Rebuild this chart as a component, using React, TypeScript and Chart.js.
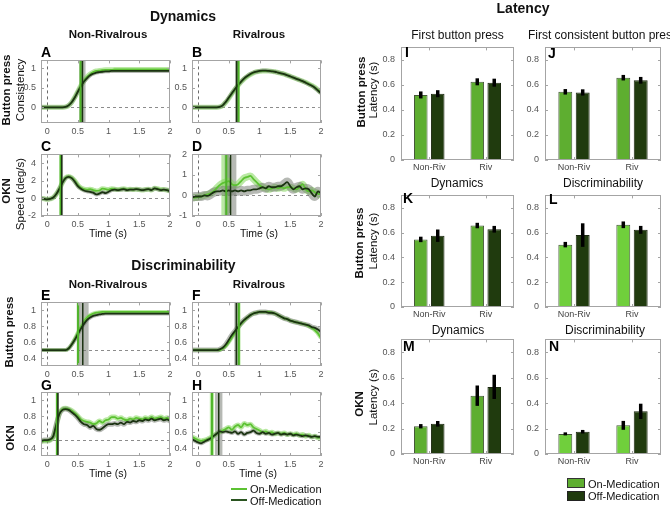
import React, { useEffect, useRef } from "react";
import { Chart, registerables } from "chart.js";
Chart.register(...registerables);

const FONT = '"Liberation Sans", Arial, Helvetica, sans-serif';

// ---------- time axis (s) ----------
const TIME = [
  -0.1, -0.05, 0, 0.05, 0.1, 0.15, 0.2, 0.25, 0.3, 0.35,
  0.4, 0.45, 0.5, 0.55, 0.6, 0.65, 0.7, 0.75, 0.8, 0.85,
  0.9, 0.95, 1.0, 1.05, 1.1, 1.15, 1.2, 1.25, 1.3, 1.35,
  1.4, 1.45, 1.5, 1.55, 1.6, 1.65, 1.7, 1.75, 1.8, 1.85,
  1.9, 1.95, 2.0,
];

// ---------- Dynamics: button press consistency ----------
const A_ON = [
  0, 0, 0, 0, 0, 0, 0, 0, 0.01, 0.05,
  0.13, 0.26, 0.41, 0.56, 0.68, 0.78, 0.85, 0.9, 0.93, 0.94,
  0.95, 0.96, 0.96, 0.96, 0.97, 0.97, 0.97, 0.97, 0.97, 0.97,
  0.97, 0.97, 0.97, 0.97, 0.97, 0.97, 0.97, 0.97, 0.97, 0.97,
  0.97, 0.97, 0.97,
];
const A_OFF = [
  0, 0, 0, 0, 0, 0, 0, 0, 0.01, 0.05,
  0.13, 0.25, 0.4, 0.54, 0.66, 0.75, 0.82, 0.86, 0.89, 0.9,
  0.91, 0.92, 0.92, 0.93, 0.93, 0.93, 0.93, 0.93, 0.93, 0.93,
  0.93, 0.93, 0.93, 0.93, 0.93, 0.93, 0.93, 0.93, 0.93, 0.93,
  0.93, 0.93, 0.93,
];
const B_ON = [
  0, 0, 0, 0, 0, 0, 0, 0, 0, 0.01,
  0.05, 0.13, 0.23, 0.35, 0.46, 0.56, 0.65, 0.73, 0.79, 0.84,
  0.88, 0.91, 0.92, 0.93, 0.93, 0.93, 0.92, 0.91, 0.89, 0.87,
  0.85, 0.82, 0.79, 0.76, 0.73, 0.7, 0.67, 0.64, 0.6, 0.56,
  0.51, 0.45, 0.38,
];
const B_OFF = [
  0, 0, 0, 0, 0, 0, 0, 0, 0, 0.01,
  0.05, 0.14, 0.25, 0.36, 0.47, 0.57, 0.66, 0.74, 0.8, 0.85,
  0.89, 0.91, 0.93, 0.94, 0.94, 0.93, 0.92, 0.91, 0.89, 0.87,
  0.85, 0.82, 0.79, 0.76, 0.73, 0.7, 0.67, 0.63, 0.59, 0.55,
  0.5, 0.43, 0.36,
];

// ---------- Dynamics: OKN speed (deg/s) ----------
const C_ON = [
  0, -0.05, -0.1, -0.05, 0.1, 0.5, 1.1, 1.8, 2.35, 2.5,
  2.35, 2.0, 1.5, 1.2, 1.05, 1.0, 1.05, 0.95, 0.85, 0.9,
  1.1, 1.05, 1.0, 1.1, 1.05, 1.0, 1.05, 1.1, 1.0, 1.05,
  1.0, 1.05, 1.0, 0.95, 1.0, 1.05, 0.95, 1.15, 1.1, 1.0,
  1.0, 0.95, 0.85,
];
const C_OFF = [
  0, -0.05, -0.1, -0.05, 0.1, 0.5, 1.1, 1.8, 2.3, 2.45,
  2.3, 1.9, 1.4, 1.1, 0.9, 0.8, 0.75, 0.65, 0.45, 0.55,
  0.7, 0.6, 0.75, 0.95, 1.0, 0.95, 1.0, 1.05, 0.95, 1.0,
  1.0, 1.05, 1.0, 0.95, 1.0, 1.05, 0.95, 1.15, 1.05, 0.95,
  1.0, 0.95, 0.8,
];
const D_ON = [
  -0.1, -0.1, -0.08, -0.05, 0, 0.05, 0.1, 0.2, 0.35, 0.5,
  0.6, 0.65, 0.7, 0.55, 0.5, 0.55, 0.7, 0.85, 0.9, 0.95,
  0.8, 0.65, 0.5, 0.4, 0.35, 0.3, 0.35, 0.4, 0.35, 0.4,
  0.35, 0.4, 0.4, 0.35, 0.3, 0.4, 0.55, 0.3, 0.2, 0.25,
  0.15, 0.1, -0.05,
];
const D_OFF = [
  -0.1, -0.05, -0.05, -0.05, 0, -0.02, 0.05, 0.15, 0.2, 0.2,
  0.25, 0.2, 0.25, 0.2, 0.25, 0.2, 0.25, 0.2, 0.25, 0.25,
  0.3, 0.3, 0.35, 0.4, 0.35, 0.45, 0.4, 0.4, 0.45, 0.45,
  0.55, 0.65, 0.45, 0.3, 0.4, 0.45, 0.3, 0.35, 0.3, 0.1,
  -0.05, 0.2, 0.1,
];

// ---------- Discriminability: button press ----------
const E_ON = [
  0.5, 0.5, 0.5, 0.5, 0.5, 0.5, 0.5, 0.5, 0.5, 0.52,
  0.57, 0.64, 0.72, 0.79, 0.86, 0.91, 0.94, 0.96, 0.97, 0.975,
  0.98, 0.98, 0.98, 0.98, 0.98, 0.98, 0.98, 0.98, 0.98, 0.98,
  0.98, 0.98, 0.98, 0.98, 0.98, 0.98, 0.98, 0.98, 0.98, 0.98,
  0.98, 0.98, 0.98,
];
const E_OFF = [
  0.5, 0.5, 0.5, 0.5, 0.5, 0.5, 0.5, 0.5, 0.5, 0.52,
  0.57, 0.63, 0.7, 0.77, 0.83, 0.88, 0.91, 0.93, 0.94, 0.95,
  0.955, 0.96, 0.96, 0.96, 0.96, 0.96, 0.96, 0.96, 0.96, 0.96,
  0.96, 0.96, 0.96, 0.96, 0.96, 0.96, 0.96, 0.96, 0.96, 0.96,
  0.96, 0.96, 0.96,
];
const F_ON = [
  0.5, 0.5, 0.5, 0.5, 0.5, 0.5, 0.5, 0.5, 0.5, 0.5,
  0.52, 0.55, 0.6, 0.66, 0.72, 0.78, 0.83, 0.87, 0.91, 0.94,
  0.96, 0.97, 0.98, 0.98, 0.98, 0.98, 0.97, 0.96, 0.94, 0.92,
  0.9, 0.89, 0.87, 0.86, 0.85, 0.84, 0.83, 0.82, 0.8, 0.78,
  0.75, 0.71, 0.65,
];
const F_OFF = [
  0.5, 0.5, 0.5, 0.5, 0.5, 0.5, 0.5, 0.5, 0.5, 0.51,
  0.53, 0.57, 0.63, 0.69, 0.74, 0.79, 0.84, 0.88, 0.91, 0.94,
  0.96, 0.97, 0.98, 0.98, 0.98, 0.97, 0.97, 0.96, 0.94, 0.92,
  0.9, 0.89, 0.87, 0.86, 0.85, 0.84, 0.83, 0.82, 0.81, 0.79,
  0.78, 0.76, 0.73,
];

// ---------- Discriminability: OKN ----------
const G_ON = [
  0.48, 0.49, 0.49, 0.5, 0.54, 0.68, 0.84, 0.89, 0.9, 0.89,
  0.87, 0.84, 0.8, 0.76, 0.74, 0.73, 0.72, 0.7, 0.71, 0.74,
  0.72, 0.75, 0.76, 0.79, 0.79, 0.77, 0.78, 0.76, 0.75, 0.77,
  0.76, 0.78, 0.77, 0.76, 0.78, 0.77, 0.79, 0.77, 0.78, 0.79,
  0.77, 0.78, 0.76,
];
const G_OFF = [
  0.49, 0.5, 0.5, 0.51, 0.55, 0.7, 0.83, 0.88, 0.89, 0.88,
  0.85, 0.82, 0.78, 0.73, 0.7, 0.69, 0.66, 0.68, 0.64, 0.63,
  0.65, 0.68, 0.7, 0.7, 0.71, 0.7, 0.72, 0.7, 0.73, 0.72,
  0.74, 0.73, 0.75, 0.74, 0.76, 0.75, 0.77, 0.75, 0.76, 0.77,
  0.75, 0.76, 0.74,
];
const H_ON = [
  0.54, 0.52, 0.5, 0.49, 0.5, 0.51, 0.53, 0.55, 0.58, 0.6,
  0.62, 0.64, 0.66, 0.63, 0.67, 0.69, 0.66, 0.71, 0.69, 0.7,
  0.66, 0.64, 0.62, 0.6, 0.61, 0.59, 0.6, 0.58, 0.59, 0.58,
  0.59, 0.57, 0.58, 0.57, 0.58, 0.56, 0.57, 0.55, 0.56, 0.54,
  0.55, 0.53, 0.53,
];
const H_OFF = [
  0.51, 0.49, 0.47, 0.46, 0.48, 0.5, 0.52, 0.55, 0.58, 0.61,
  0.6, 0.61, 0.6, 0.59, 0.61, 0.58, 0.6, 0.57, 0.59, 0.6,
  0.62, 0.59, 0.58, 0.6, 0.58, 0.59, 0.57, 0.58, 0.59, 0.57,
  0.58, 0.57, 0.58, 0.56, 0.57, 0.56, 0.55, 0.56, 0.55, 0.54,
  0.55, 0.54, 0.54,
];

// ---------- Latency bars (s): [Non-Riv, Riv] ----------
const CATS = ["Non-Riv", "Riv"];
const I_ON = [0.52, 0.625];
const I_ON_ERR = [0.028, 0.028];
const I_OFF = [0.53, 0.618];
const I_OFF_ERR = [0.028, 0.032];
const J_ON = [0.545, 0.658];
const J_ON_ERR = [0.022, 0.022];
const J_OFF = [0.54, 0.637];
const J_OFF_ERR = [0.025, 0.027];
const K_ON = [0.545, 0.657];
const K_ON_ERR = [0.022, 0.022];
const K_OFF = [0.575, 0.627];
const K_OFF_ERR = [0.05, 0.027];
const L_ON = [0.503, 0.663];
const L_ON_ERR = [0.022, 0.027];
const L_OFF = [0.58, 0.622];
const L_OFF_ERR = [0.095, 0.032];
const M_ON = [0.218, 0.458];
const M_ON_ERR = [0.017, 0.08];
const M_OFF = [0.237, 0.527];
const M_OFF_ERR = [0.022, 0.095];
const N_ON = [0.158, 0.225];
const N_ON_ERR = [0.012, 0.035];
const N_OFF = [0.175, 0.335];
const N_OFF_ERR = [0.014, 0.06];

// ---------- tick labels ----------
const X_TICKS = [0, 0.5, 1, 1.5, 2];
const Y_TICKS_CONS = [0, 0.5, 1];
const Y_TICKS_SPEED_NR = [-2, 0, 2, 4];
const Y_TICKS_SPEED_R = [-1, 0, 1, 2];
const Y_TICKS_DISC = [0.4, 0.6, 0.8, 1];
const BAR_Y_TICKS = [0, 0.2, 0.4, 0.6, 0.8];

// ---------- styles ----------
const COL_ON_LINE = "#5cc232";
const COL_OFF_LINE = "#1b3212";
const COL_ON_BAND = "rgba(130,215,90,0.55)";
const COL_OFF_BAND = "rgba(110,115,105,0.5)";
const COL_BAR_ON = "#5eae30";
const COL_BAR_ON_LIGHT = "#70cf3c";
const COL_BAR_OFF = "#203b0e";
const FRAME_COL = "#a4a4a4";
const TICK_COL = "#555";

const YW = 32, PT = 8, PR = 8, XH = 20;

type Rect = { x: number; y: number; w: number; h: number };

const LINE_PANELS = [
  { f: { x: 41, y: 58, w: 129, h: 65 }, on: A_ON, off: A_OFF, ymin: -0.4, ymax: 1.2, yt: Y_TICKS_CONS, ref: 0,
    latOn: [K_ON[0], K_ON_ERR[0]], latOff: [K_OFF[0], K_OFF_ERR[0]], bw: [5, 4] },
  { f: { x: 192, y: 58, w: 129, h: 65 }, on: B_ON, off: B_OFF, ymin: -0.4, ymax: 1.2, yt: Y_TICKS_CONS, ref: 0,
    latOn: [K_ON[1], K_ON_ERR[1]], latOff: [K_OFF[1], K_OFF_ERR[1]], bw: [5, 4] },
  { f: { x: 41, y: 152, w: 129, h: 64 }, on: C_ON, off: C_OFF, ymin: -2, ymax: 5, yt: Y_TICKS_SPEED_NR, ref: 0,
    latOn: [M_ON[0], M_ON_ERR[0]], latOff: [M_OFF[0], M_OFF_ERR[0]], bw: [5, 4] },
  { f: { x: 192, y: 152, w: 129, h: 64 }, on: D_ON, off: D_OFF, ymin: -1, ymax: 2, yt: Y_TICKS_SPEED_R, ref: 0,
    latOn: [M_ON[1], M_ON_ERR[1]], latOff: [M_OFF[1], M_OFF_ERR[1]], bw: [7, 9] },
  { f: { x: 41, y: 300, w: 129, h: 66 }, on: E_ON, off: E_OFF, ymin: 0.3, ymax: 1.1, yt: Y_TICKS_DISC, ref: 0.5,
    latOn: [L_ON[0], L_ON_ERR[0]], latOff: [L_OFF[0], L_OFF_ERR[0]], bw: [4, 4] },
  { f: { x: 192, y: 300, w: 129, h: 66 }, on: F_ON, off: F_OFF, ymin: 0.3, ymax: 1.1, yt: Y_TICKS_DISC, ref: 0.5,
    latOn: [L_ON[1], L_ON_ERR[1]], latOff: [L_OFF[1], L_OFF_ERR[1]], bw: [4, 5] },
  { f: { x: 41, y: 390, w: 129, h: 66 }, on: G_ON, off: G_OFF, ymin: 0.3, ymax: 1.1, yt: Y_TICKS_DISC, ref: 0.5,
    latOn: [N_ON[0], N_ON_ERR[0]], latOff: [N_OFF[0], N_OFF_ERR[0]], bw: [5, 5] },
  { f: { x: 192, y: 390, w: 129, h: 66 }, on: H_ON, off: H_OFF, ymin: 0.3, ymax: 1.1, yt: Y_TICKS_DISC, ref: 0.5,
    latOn: [N_ON[1], N_ON_ERR[1]], latOff: [N_OFF[1], N_OFF_ERR[1]], bw: [5, 4] },
];

const BAR_PANELS = [
  { f: { x: 401, y: 44, w: 113, h: 116 }, on: I_ON, onErr: I_ON_ERR, off: I_OFF, offErr: I_OFF_ERR, onCol: COL_BAR_ON },
  { f: { x: 545, y: 44, w: 116, h: 116 }, on: J_ON, onErr: J_ON_ERR, off: J_OFF, offErr: J_OFF_ERR, onCol: COL_BAR_ON },
  { f: { x: 401, y: 192, w: 113, h: 115 }, on: K_ON, onErr: K_ON_ERR, off: K_OFF, offErr: K_OFF_ERR, onCol: COL_BAR_ON },
  { f: { x: 545, y: 192, w: 116, h: 115 }, on: L_ON, onErr: L_ON_ERR, off: L_OFF, offErr: L_OFF_ERR, onCol: COL_BAR_ON_LIGHT },
  { f: { x: 401, y: 336, w: 113, h: 118 }, on: M_ON, onErr: M_ON_ERR, off: M_OFF, offErr: M_OFF_ERR, onCol: COL_BAR_ON },
  { f: { x: 545, y: 336, w: 116, h: 118 }, on: N_ON, onErr: N_ON_ERR, off: N_OFF, offErr: N_OFF_ERR, onCol: COL_BAR_ON_LIGHT },
];

function drawFrame(chart: any) {
  const { ctx, chartArea: a, scales } = chart;
  const x = scales.x, y = scales.y;
  ctx.save();
  ctx.strokeStyle = FRAME_COL;
  ctx.lineWidth = 1;
  ctx.setLineDash([]);
  ctx.strokeRect(Math.round(a.left) + 0.5, Math.round(a.top) + 0.5, Math.round(a.right - a.left) - 1, Math.round(a.bottom - a.top) - 1);
  ctx.beginPath();
  x.ticks.forEach((_t: any, i: number) => {
    const px = Math.round(x.getPixelForTick(i)) + 0.5;
    ctx.moveTo(px, a.bottom); ctx.lineTo(px, a.bottom - 3);
    ctx.moveTo(px, a.top); ctx.lineTo(px, a.top + 3);
  });
  y.ticks.forEach((_t: any, i: number) => {
    const py = Math.round(y.getPixelForTick(i)) + 0.5;
    ctx.moveTo(a.left, py); ctx.lineTo(a.left + 3, py);
    ctx.moveTo(a.right, py); ctx.lineTo(a.right - 3, py);
  });
  ctx.stroke();
  ctx.restore();
}

const baseOpts = {
  animation: false as const,
  responsive: false,
  events: [] as any[],
  layout: { padding: { top: PT, right: PR, left: 0, bottom: 0 } },
  plugins: { legend: { display: false }, tooltip: { enabled: false } },
};

function makeLine(canvas: HTMLCanvasElement, p: any) {
  const pts = (arr: number[]) => TIME.map((t, i) => ({ x: t, y: arr[i] }));
  const ds = (arr: number[], color: string, width: number) => ({
    data: pts(arr), borderColor: color, borderWidth: width, pointRadius: 0, fill: false,
    cubicInterpolationMode: "monotone", clip: 0, borderCapStyle: "butt",
  });
  const overlay = {
    id: "ov",
    beforeDatasetsDraw(chart: any) {
      const { ctx, chartArea: a, scales } = chart;
      const x = scales.x, y = scales.y;
      ctx.save();
      ctx.beginPath(); ctx.rect(a.left, a.top, a.right - a.left, a.bottom - a.top); ctx.clip();
      ctx.lineWidth = 1;
      ctx.setLineDash([3, 3]);
      ctx.strokeStyle = "#8c8c8c";
      const yr = Math.round(y.getPixelForValue(p.ref)) + 0.5;
      ctx.beginPath(); ctx.moveTo(a.left, yr); ctx.lineTo(a.right, yr); ctx.stroke();
      ctx.strokeStyle = "#6a6a6a";
      const x0 = Math.round(x.getPixelForValue(0)) + 0.5;
      ctx.beginPath(); ctx.moveTo(x0, a.top); ctx.lineTo(x0, a.bottom); ctx.stroke();
      ctx.setLineDash([]);
      const bands: [number[], string][] = [[p.latOn, COL_ON_BAND], [p.latOff, COL_OFF_BAND]];
      bands.forEach(([lat, col]) => {
        const x1 = x.getPixelForValue(lat[0] - lat[1]);
        const x2 = x.getPixelForValue(lat[0] + lat[1]);
        ctx.fillStyle = col;
        ctx.fillRect(x1, a.top, Math.max(x2 - x1, 1), a.bottom - a.top);
      });
      ctx.restore();
    },
    afterDatasetsDraw(chart: any) {
      const { ctx, chartArea: a, scales } = chart;
      const x = scales.x;
      ctx.save();
      const lines: [number[], string, number][] = [[p.latOn, "#4fb52a", 2], [p.latOff, COL_OFF_LINE, 1.5]];
      lines.forEach(([lat, col, w]) => {
        const px = x.getPixelForValue(lat[0]);
        ctx.strokeStyle = col; ctx.lineWidth = w;
        ctx.beginPath(); ctx.moveTo(px, a.top); ctx.lineTo(px, a.bottom); ctx.stroke();
      });
      ctx.restore();
    },
    afterDraw(chart: any) { drawFrame(chart); },
  };
  return new Chart(canvas, {
    type: "line",
    data: {
      datasets: [
        ds(p.off, COL_OFF_LINE, 1.8),
        ds(p.on, COL_ON_LINE, 1.8),
        ds(p.off, COL_OFF_BAND, p.bw[1]),
        ds(p.on, COL_ON_BAND, p.bw[0]),
      ] as any,
    },
    options: {
      ...baseOpts,
      scales: {
        x: {
          type: "linear", min: -0.1, max: 2,
          afterBuildTicks: (s: any) => { s.ticks = X_TICKS.map((v) => ({ value: v })); },
          afterFit: (s: any) => { s.height = XH; },
          grid: { display: false, drawTicks: false }, border: { display: false },
          ticks: { font: { size: 9, family: FONT }, color: TICK_COL, padding: 3, maxRotation: 0, autoSkip: false, callback: (v: any) => String(v) },
        },
        y: {
          type: "linear", min: p.ymin, max: p.ymax,
          afterBuildTicks: (s: any) => { s.ticks = p.yt.map((v: number) => ({ value: v })); },
          afterFit: (s: any) => { s.width = YW; },
          grid: { display: false, drawTicks: false }, border: { display: false },
          ticks: { font: { size: 9, family: FONT }, color: TICK_COL, padding: 5, autoSkip: false, callback: (v: any) => String(v) },
        },
      },
    } as any,
    plugins: [overlay],
  });
}

function makeBar(canvas: HTMLCanvasElement, p: any) {
  const errPlugin = {
    id: "err",
    afterDatasetsDraw(chart: any) {
      const { ctx, scales } = chart;
      const y = scales.y;
      const sets: [number[], number[]][] = [[p.on, p.onErr], [p.off, p.offErr]];
      ctx.save();
      ctx.strokeStyle = "#000"; ctx.lineWidth = 3.5; ctx.lineCap = "butt";
      sets.forEach(([vals, errs], d) => {
        chart.getDatasetMeta(d).data.forEach((el: any, i: number) => {
          ctx.beginPath();
          ctx.moveTo(el.x, y.getPixelForValue(vals[i] - errs[i]));
          ctx.lineTo(el.x, y.getPixelForValue(vals[i] + errs[i]));
          ctx.stroke();
        });
      });
      ctx.restore();
    },
    afterDraw(chart: any) { drawFrame(chart); },
  };
  return new Chart(canvas, {
    type: "bar",
    data: {
      labels: CATS,
      datasets: [
        { data: p.on, backgroundColor: p.onCol, borderColor: "#46583a", borderWidth: 1, barPercentage: 0.8, categoryPercentage: 0.6 },
        { data: p.off, backgroundColor: COL_BAR_OFF, borderColor: "#1a260f", borderWidth: 1, barPercentage: 0.8, categoryPercentage: 0.6 },
      ],
    },
    options: {
      ...baseOpts,
      scales: {
        x: {
          type: "category",
          afterFit: (s: any) => { s.height = XH; },
          grid: { display: false, drawTicks: false }, border: { display: false },
          ticks: { font: { size: 9, family: FONT }, color: "#444", padding: 2, maxRotation: 0, autoSkip: false },
        },
        y: {
          type: "linear", min: 0, max: 0.9,
          afterBuildTicks: (s: any) => { s.ticks = BAR_Y_TICKS.map((v) => ({ value: v })); },
          afterFit: (s: any) => { s.width = YW; },
          grid: { display: false, drawTicks: false }, border: { display: false },
          ticks: { font: { size: 9, family: FONT }, color: TICK_COL, padding: 6, autoSkip: false, callback: (v: any) => String(v) },
        },
      },
    } as any,
    plugins: [errPlugin],
  });
}

function T(props: { x: number; y: number; s: number; b?: boolean; r?: boolean; left?: boolean; c?: string; children: any }) {
  const { x, y, s, b, r, left, c, children } = props;
  return (
    <div
      style={{
        position: "absolute", left: x, top: y, fontSize: s, fontWeight: b ? 700 : 400,
        color: c || "#111", whiteSpace: "nowrap", lineHeight: 1, fontFamily: FONT, pointerEvents: "none",
        transform: `translate(${left ? "0" : "-50%"},-50%)${r ? " rotate(-90deg)" : ""}`,
        transformOrigin: left ? "0 50%" : "50% 50%",
      }}
    >
      {children}
    </div>
  );
}

function canvasStyle(f: Rect): React.CSSProperties {
  return { position: "absolute", left: f.x - YW, top: f.y - PT, width: f.w + YW + PR, height: f.h + PT + XH };
}

export default function App() {
  const refs = useRef<(HTMLCanvasElement | null)[]>([]);
  useEffect(() => {
    Chart.defaults.font.family = FONT;
    const charts: Chart[] = [];
    LINE_PANELS.forEach((p, i) => {
      const c = refs.current[i];
      if (c) charts.push(makeLine(c, p));
    });
    BAR_PANELS.forEach((p, j) => {
      const c = refs.current[LINE_PANELS.length + j];
      if (c) charts.push(makeBar(c, p));
    });
    return () => charts.forEach((c) => c.destroy());
  }, []);

  const all = [...LINE_PANELS, ...BAR_PANELS];
  const letters = ["A", "B", "C", "D", "E", "F", "G", "H"];
  const letterY = [52, 52, 146, 146, 294.5, 294.5, 385, 385];

  return (
    <div style={{ position: "fixed", left: 0, top: 0, width: 670, height: 507, background: "#fff", overflow: "hidden", fontFamily: FONT }}>
      {all.map((p, i) => (
        <canvas
          key={i}
          ref={(el) => { refs.current[i] = el; }}
          width={p.f.w + YW + PR}
          height={p.f.h + PT + XH}
          style={canvasStyle(p.f)}
        />
      ))}

      {/* Left: Dynamics */}
      <T x={183} y={16} s={14} b>Dynamics</T>
      <T x={108} y={35} s={11.5} b>Non-Rivalrous</T>
      <T x={259} y={35} s={11.5} b>Rivalrous</T>
      <T x={183.5} y={265} s={14} b>Discriminability</T>
      <T x={108} y={285} s={11.5} b>Non-Rivalrous</T>
      <T x={259} y={285} s={11.5} b>Rivalrous</T>
      {letters.map((l, i) => (
        <T key={l} x={LINE_PANELS[i].f.x} y={letterY[i]} s={14} b left c="#000">{l}</T>
      ))}
      <T x={7} y={90} s={11.5} b r>Button press</T>
      <T x={20.5} y={89.5} s={11.5} r>Consistency</T>
      <T x={7} y={191} s={11.5} b r>OKN</T>
      <T x={20.5} y={194} s={11.5} r>Speed (deg/s)</T>
      <T x={10} y={332} s={11.5} b r>Button press</T>
      <T x={10.5} y={438} s={11.5} b r>OKN</T>
      <T x={108} y={233} s={10.5}>Time (s)</T>
      <T x={259} y={233} s={10.5}>Time (s)</T>
      <T x={108} y={472.5} s={10.5}>Time (s)</T>
      <T x={258} y={472.5} s={10.5}>Time (s)</T>
      <div style={{ position: "absolute", left: 231, top: 488, width: 16, height: 2, background: COL_ON_LINE }} />
      <div style={{ position: "absolute", left: 231, top: 499, width: 16, height: 2, background: "#2a5420" }} />
      <T x={250} y={489} s={11} left>On-Medication</T>
      <T x={250} y={500.5} s={11} left>Off-Medication</T>

      {/* Right: Latency */}
      <T x={523} y={8} s={14} b>Latency</T>
      <T x={457.5} y={35} s={12}>First button press</T>
      <T x={603} y={35} s={12}>First consistent button press</T>
      <T x={457} y={183} s={12}>Dynamics</T>
      <T x={603} y={183} s={12}>Discriminability</T>
      <T x={458} y={330} s={12}>Dynamics</T>
      <T x={605} y={330} s={12}>Discriminability</T>
      <T x={405} y={52} s={14} b left c="#000">I</T>
      <T x={548} y={52.5} s={14} b left c="#000">J</T>
      <T x={403} y={198} s={14} b left c="#000">K</T>
      <T x={549} y={198.5} s={14} b left c="#000">L</T>
      <T x={403} y={346} s={14} b left c="#000">M</T>
      <T x={549} y={346} s={14} b left c="#000">N</T>
      <T x={361.5} y={92} s={11.5} b r>Button press</T>
      <T x={374} y={90} s={11.5} r>Latency (s)</T>
      <T x={360} y={243} s={11.5} b r>Button press</T>
      <T x={373.5} y={241} s={11.5} r>Latency (s)</T>
      <T x={360} y={404} s={11.5} b r>OKN</T>
      <T x={373.5} y={396.5} s={11.5} r>Latency (s)</T>
      <div style={{ position: "absolute", left: 567, top: 478, width: 18, height: 10, background: COL_BAR_ON, border: "1px solid #333", boxSizing: "border-box" }} />
      <div style={{ position: "absolute", left: 567, top: 491, width: 18, height: 10, background: COL_BAR_OFF, border: "1px solid #222", boxSizing: "border-box" }} />
      <T x={588} y={483.5} s={11} left>On-Medication</T>
      <T x={588} y={496} s={11} left>Off-Medication</T>
    </div>
  );
}
